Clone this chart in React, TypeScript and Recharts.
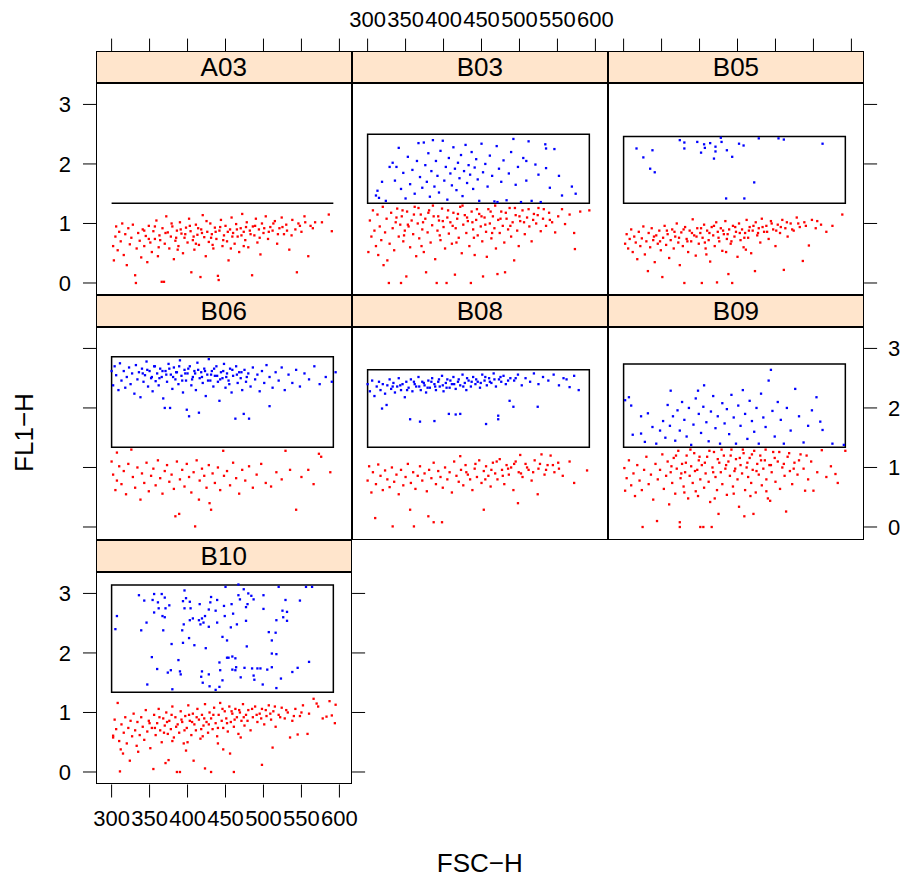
import { ScatterChart, Scatter, XAxis, YAxis, ReferenceArea, ReferenceLine } from "recharts";

type Pt = [number, number];

const X_TICKS = [300, 350, 400, 450, 500, 550, 600];
const Y_TICKS = [0, 1, 2, 3];
const X_DOMAIN: [number, number] = [279.45, 616.7];
const Y_DOMAIN: [number, number] = [-0.21, 3.36];
const GATE_X: [number, number] = [300, 592];
const GATE_LOW = 1.34;

const A03_RED: Pt[] = [
  [302,0.62],[303,0.38],[305,0.78],[306,0.95],[308,0.55],[310,0.86],[312,0.70],[314,1.00],[316,0.47],[318,0.82],
  [320,0.30],[322,0.92],[324,0.65],[326,0.76],[328,0.98],[331,0.13],[332,0.00],[333,0.58],[335,0.84],[337,0.71],
  [339,0.43],[341,0.90],[343,0.62],[345,0.79],[347,0.35],[349,0.96],[351,0.68],[353,0.52],[355,0.87],[357,0.74],
  [359,1.05],[361,0.45],[363,0.80],[366,0.02],[367,0.92],[369,0.02],[370,0.66],[372,1.12],[374,0.85],[376,0.58],
  [378,0.78],[380,0.95],[382,0.40],[384,0.71],[386,0.88],[388,0.62],[390,1.02],[392,0.83],[394,0.50],[396,0.76],
  [398,0.93],[400,0.68],[402,1.08],[404,0.87],[405,0.18],[407,0.72],[409,0.56],[411,0.98],[413,0.81],[415,0.64],
  [417,0.10],[418,0.90],[420,1.14],[422,0.77],[424,0.45],[426,0.86],[428,0.69],[430,1.00],[432,0.82],[434,0.58],
  [436,0.93],[438,0.74],[440,0.12],[441,0.05],[442,0.88],[444,1.06],[446,0.62],[448,0.80],[450,0.96],[452,0.70],
  [454,0.38],[456,0.90],[458,1.10],[460,0.84],[462,0.66],[464,0.99],[466,0.78],[468,0.52],[470,0.92],[472,1.16],
  [474,0.86],[476,0.72],[478,1.02],[480,0.60],[482,0.88],[485,0.13],[486,0.95],[488,0.80],[490,1.08],[492,0.68],
  [494,0.90],[496,0.48],[498,1.00],[500,0.84],[503,1.12],[506,0.74],[509,0.94],[512,0.88],[515,1.04],[518,0.66],
  [521,0.92],[524,1.10],[527,0.82],[530,0.98],[534,0.56],[538,1.06],[542,0.90],[544,0.18],[546,1.00],[550,0.86],
  [554,1.12],[559,0.45],[562,0.96],[568,1.02],[577,1.02],[586,1.15],[590,0.87],
  [343,0.88],[357,0.95],[364,0.72],[371,0.84],[379,1.00],[385,0.76],[391,0.90],[397,0.82],[403,0.96],[408,0.78],
  [414,0.92],[419,0.84],[425,1.04],[431,0.76],[437,0.86],[443,0.94],[447,0.72],[453,0.86],[459,0.78],[465,0.90],
  [471,0.80],[477,0.94],[483,0.82],[489,0.96],[495,0.76],[501,0.92],[507,0.86],[513,1.00],[519,0.82],[525,0.94],
  [531,0.88],[537,0.80],[548,0.96],[555,1.02],[565,0.92],[349,0.74],[362,0.60],[387,0.56],[411,0.66],[433,0.64],
  [457,0.58],[474,0.62],
];

const B03_RED: Pt[] = [
  [301,0.52],[303,1.05],[305,0.78],[307,1.22],[309,0.88],[311,0.62],[313,1.15],[314,0.47],[316,0.95],[318,0.72],
  [320,1.28],[321,0.30],[323,0.85],[325,1.08],[326,0.38],[328,0.00],[329,0.66],[331,1.18],[333,0.92],[335,0.55],
  [337,1.02],[339,1.25],[341,0.78],[343,0.98],[344,0.00],[345,1.12],[347,0.70],[349,0.88],[351,0.11],[352,1.20],
  [354,0.95],[356,0.60],[358,1.05],[360,0.82],[362,1.28],[364,0.45],[366,1.00],[368,0.75],[370,1.15],[372,0.90],
  [374,0.52],[376,1.08],[377,0.18],[379,0.85],[381,1.22],[383,0.68],[385,0.97],[387,1.12],[389,0.40],[391,0.00],
  [392,0.88],[394,1.05],[396,0.72],[398,1.25],[400,0.94],[402,0.58],[404,0.00],[405,1.10],[407,0.83],[409,1.02],
  [411,0.66],[413,1.18],[415,0.14],[416,0.92],[418,1.08],[420,0.76],[422,1.28],[424,0.50],[426,0.98],[428,1.14],
  [430,0.84],[432,1.04],[434,0.62],[436,0.00],[437,1.20],[439,0.90],[441,0.47],[443,1.06],[445,0.80],[447,1.16],
  [449,0.95],[451,0.70],[452,0.11],[454,1.10],[456,0.86],[457,0.44],[459,1.24],[461,1.00],[463,0.75],[465,1.12],
  [467,0.92],[469,0.58],[471,0.15],[472,1.06],[474,0.84],[476,1.20],[478,0.96],[480,0.68],[481,0.18],[483,1.08],
  [485,0.90],[487,1.26],[489,0.78],[491,1.02],[493,0.38],[495,1.14],[497,0.88],[499,0.62],[501,1.04],[504,1.22],
  [507,0.82],[510,1.10],[513,0.95],[516,0.70],[519,1.16],[522,1.00],[525,1.26],[528,0.87],[531,1.08],[535,0.96],
  [539,1.18],[543,1.02],[547,0.85],[551,1.12],[556,1.24],[560,0.99],[566,1.15],[572,0.84],[573,0.57],[580,1.20],
  [592,1.22],
  [338,1.10],[346,1.22],[353,0.98],[361,1.15],[367,1.26],[373,1.02],[380,1.18],[386,1.30],[393,1.12],[399,1.04],
  [406,1.22],[412,0.96],[419,1.16],[425,1.30],[431,1.10],[438,1.02],[444,1.24],[450,1.12],[455,0.98],[462,1.20],
  [468,1.30],[475,1.08],[482,1.18],[488,0.96],[494,1.26],[500,1.12],[506,1.02],[512,1.24],[518,1.06],[524,1.14],
  [532,1.24],[540,1.06],[348,0.80],[371,0.62],[395,0.80],[417,0.68],[440,0.76],[464,0.84],
];

const B03_BLUE: Pt[] = [
  [311,1.47],[313,1.55],[315,1.43],[319,1.70],[324,1.38],[329,1.95],[333,2.02],[336,1.72],[338,1.95],[341,2.27],
  [344,1.58],[347,1.85],[350,1.42],[353,2.12],[356,1.66],[359,1.90],[362,1.50],[365,2.05],[367,2.35],[369,1.78],
  [372,1.60],[374,2.36],[376,1.98],[378,1.70],[380,2.18],[382,1.45],[384,1.88],[386,2.40],[388,1.62],[390,2.05],
  [392,1.80],[394,1.52],[396,2.22],[399,2.39],[401,1.72],[403,1.95],[405,1.40],[407,2.10],[409,1.84],[411,1.64],
  [413,2.28],[415,1.92],[417,1.56],[419,2.02],[421,1.76],[423,2.15],[425,1.46],[427,1.88],[429,2.32],[431,1.68],
  [433,1.98],[435,1.82],[437,2.20],[439,1.58],[441,1.94],[443,2.08],[445,1.74],[447,1.38],[450,2.34],[452,1.86],
  [455,2.00],[458,1.62],[461,2.14],[464,1.80],[467,1.37],[470,2.30],[471,1.36],[473,1.92],[476,1.70],[479,2.06],
  [483,1.39],[486,1.84],[489,2.20],[492,2.42],[495,1.65],[498,1.95],[502,1.36],[505,2.10],[509,1.72],[509,2.05],
  [512,2.38],[516,1.38],[521,1.99],[525,1.82],[528,1.36],[534,2.33],[535,1.93],[535,2.26],[540,1.60],[546,2.25],
  [552,1.80],[556,1.47],[569,1.62],[574,1.50],
];

const B05_RED: Pt[] = [
  [302,0.66],[304,0.82],[306,0.58],[308,0.74],[310,0.90],[312,0.52],[314,0.78],[316,0.68],[318,0.40],[320,0.86],
  [322,0.62],[324,0.75],[326,0.95],[328,0.48],[330,0.70],[332,0.20],[333,0.84],[335,0.60],[337,0.92],[339,0.72],
  [341,0.35],[343,0.80],[345,0.66],[347,0.88],[349,0.55],[351,0.10],[352,0.76],[354,0.96],[356,0.64],[358,0.82],
  [360,0.42],[362,0.72],[364,0.90],[366,0.58],[368,0.78],[370,1.00],[372,0.68],[374,0.30],[376,0.85],[378,0.62],
  [380,0.00],[381,0.94],[383,0.74],[385,0.52],[387,0.88],[389,0.70],[391,1.07],[393,0.80],[395,0.46],[397,0.92],
  [399,0.66],[401,0.84],[403,0.00],[404,0.76],[406,0.98],[408,0.58],[410,0.88],[412,0.72],[414,0.36],[416,0.94],
  [418,0.80],[420,0.62],[422,1.02],[423,0.01],[424,0.86],[426,0.70],[428,0.92],[430,0.54],[432,0.82],[434,1.04],
  [436,0.74],[438,0.15],[439,0.90],[441,0.66],[443,0.00],[444,0.96],[446,0.78],[448,0.86],[450,0.44],[452,1.00],
  [454,0.72],[456,0.90],[458,0.60],[460,0.84],[462,1.06],[464,0.76],[466,0.94],[468,0.50],[470,0.88],[473,0.20],
  [474,1.02],[476,0.80],[478,0.92],[480,0.68],[482,1.08],[485,0.86],[488,0.96],[491,0.74],[494,1.04],[497,0.90],
  [500,0.62],[503,0.98],[506,0.84],[509,1.06],[511,0.22],[513,0.92],[516,0.78],[520,1.00],[524,0.88],[528,1.10],
  [532,0.94],[536,0.37],[538,1.02],[544,0.63],[548,1.06],[553,0.92],[560,0.98],[567,0.86],[575,0.96],[588,1.15],
  [367,0.86],[373,0.76],[379,0.90],[384,0.70],[390,0.84],[396,0.78],[402,0.92],[407,0.68],[413,0.84],[419,0.96],
  [425,0.76],[431,0.88],[437,0.82],[442,0.70],[447,0.94],[453,0.84],[459,0.76],[465,0.88],[471,0.96],[477,0.84],
  [483,0.94],[489,0.86],[495,1.00],[501,0.88],[507,0.94],[515,1.02],[522,0.90],[530,1.00],[540,0.96],[555,1.04],
  [340,0.78],[348,0.70],[357,0.88],[409,0.48],[435,0.52],[461,0.56],
];

const B05_BLUE: Pt[] = [
  [317,2.26],[326,2.11],[335,1.92],[338,2.23],[341,1.86],[374,2.40],[380,2.36],[380,2.26],[397,2.37],[402,2.19],
  [406,2.33],[407,2.27],[414,2.35],[419,2.09],[421,2.29],[421,2.21],[428,2.44],[429,2.37],[435,1.42],[436,2.23],
  [443,2.12],[452,2.34],[458,2.31],[459,1.42],[472,1.69],[478,2.43],[504,2.43],[511,2.41],[562,2.34],
];

const B06_RED: Pt[] = [
  [300,1.10],[302,0.88],[305,0.62],[307,1.25],[307,0.78],[310,1.02],[313,0.72],[316,0.94],[319,0.55],[322,1.06],
  [326,1.30],[328,0.84],[331,0.66],[334,1.00],[338,0.46],[340,0.90],[343,0.74],[346,1.08],[349,0.60],[352,0.86],
  [355,0.98],[358,0.70],[361,1.12],[364,0.82],[367,0.56],[370,0.94],[373,1.04],[376,0.76],[379,0.88],[382,0.64],
  [384,0.18],[386,1.10],[389,0.22],[390,0.80],[393,0.96],[396,0.68],[399,1.06],[402,0.84],[405,0.58],[408,0.92],
  [410,0.01],[412,1.12],[415,0.46],[416,0.78],[419,0.98],[422,0.86],[425,0.66],[428,1.04],[429,0.40],[431,0.29],
  [433,0.90],[436,0.74],[440,1.00],[443,0.62],[447,1.28],[448,0.86],[452,0.94],[456,0.70],[460,1.08],[464,0.82],
  [468,0.56],[472,0.96],[476,0.78],[481,1.02],[486,0.66],[491,0.88],[497,1.06],[503,0.74],[510,0.68],[517,0.92],
  [524,0.80],[529,1.28],[535,0.96],[543,0.29],[550,0.84],[559,0.96],[566,0.72],[573,1.23],[576,1.18],[588,0.92],
];

const B06_BLUE: Pt[] = [
  [300,2.62],[302,2.38],[304,2.70],[306,2.55],[309,2.30],[311,2.75],[313,2.46],[316,2.62],[318,2.34],[320,2.52],
  [323,2.68],[325,2.40],[327,2.58],[330,2.24],[332,2.72],[334,2.48],[336,2.60],[338,2.18],[340,2.66],[342,2.44],
  [344,2.55],[346,2.78],[348,2.36],[350,2.62],[352,2.50],[354,2.28],[356,2.70],[358,2.45],[360,2.58],[362,2.38],
  [364,2.66],[366,2.52],[368,2.16],[370,2.00],[371,2.62],[373,2.44],[375,2.74],[377,2.00],[378,2.56],[380,2.32],
  [382,2.68],[384,2.48],[386,2.60],[388,2.40],[390,2.80],[392,2.54],[394,2.26],[396,2.64],[398,2.46],[399,1.97],
  [400,2.58],[402,1.86],[403,2.70],[405,2.38],[407,2.52],[409,2.62],[411,2.30],[413,2.76],[415,1.92],[416,2.50],
  [418,2.60],[420,2.42],[422,2.66],[424,2.20],[426,2.56],[428,2.82],[430,2.46],[432,2.62],[434,2.36],[436,2.54],
  [438,2.70],[440,2.44],[442,2.12],[444,2.60],[446,2.50],[448,2.74],[450,2.34],[452,2.58],[454,2.46],[456,2.66],
  [458,2.26],[460,2.54],[463,1.82],[464,2.70],[466,2.42],[468,2.60],[470,2.50],[472,2.30],[474,1.90],[475,2.64],
  [477,2.44],[480,2.58],[481,1.82],[483,2.36],[486,2.68],[489,2.48],[492,2.56],[495,2.28],[498,2.62],[501,2.42],
  [504,2.72],[508,2.03],[508,2.52],[512,2.34],[516,2.60],[520,2.46],[524,2.68],[528,2.30],[533,2.56],[538,2.42],
  [543,2.64],[548,2.36],[554,2.58],[560,2.48],[567,2.70],[574,2.40],[582,2.52],[590,2.44],[595,2.60],
  [341,2.58],[347,2.64],[353,2.52],[357,2.70],[363,2.50],[367,2.62],[372,2.56],[376,2.66],[381,2.52],[385,2.60],
  [389,2.70],[393,2.46],[397,2.58],[401,2.66],[406,2.48],[410,2.58],[414,2.64],[419,2.52],[423,2.62],[427,2.46],
  [431,2.56],[435,2.66],[439,2.54],[443,2.48],[447,2.62],[451,2.52],[455,2.40],[459,2.64],[465,2.56],[471,2.60],
  [478,2.52],
];

const B08_RED: Pt[] = [
  [300,0.78],[302,1.02],[305,0.58],[307,0.92],[310,0.15],[311,0.72],[314,1.05],[317,0.86],[320,0.62],[323,0.95],
  [326,0.80],[329,0.67],[332,1.00],[333,0.01],[335,0.76],[338,0.88],[341,0.55],[344,0.96],[347,0.70],[350,0.84],
  [353,1.06],[356,0.29],[357,0.74],[360,0.92],[361,0.01],[363,0.64],[366,0.86],[369,1.02],[372,0.78],[375,0.90],
  [378,0.60],[380,0.18],[381,0.96],[384,0.82],[387,0.08],[387,1.08],[390,0.72],[393,0.94],[396,0.84],[398,0.08],
  [399,0.66],[402,1.00],[405,0.80],[408,0.92],[411,0.58],[414,1.10],[417,0.86],[420,0.76],[422,1.19],[423,0.96],
  [426,0.70],[429,1.04],[432,0.88],[435,0.80],[438,0.62],[441,0.98],[444,0.84],[447,1.12],[450,0.74],[453,0.29],
  [453,0.94],[456,1.02],[459,0.86],[462,0.68],[465,1.08],[468,0.90],[471,0.80],[474,1.14],[477,0.96],[480,0.72],
  [483,1.04],[486,0.88],[489,1.00],[492,0.62],[495,1.10],[498,0.40],[499,0.92],[501,1.21],[504,0.84],[508,1.06],
  [512,0.96],[516,0.78],[520,1.12],[524,0.55],[525,0.98],[529,1.22],[533,0.88],[537,1.04],[541,1.20],[546,0.92],
  [551,1.08],[557,0.86],[566,1.10],[572,0.74],[589,0.95],
  [430,0.92],[442,1.06],[455,0.80],[463,0.96],[470,1.10],[478,0.86],[485,0.98],[493,1.06],[502,0.90],[510,1.00],
  [518,0.92],[527,1.06],[535,0.96],[544,1.04],[552,0.98],
];

const B08_BLUE: Pt[] = [
  [300,2.40],[303,2.28],[306,2.46],[309,2.20],[312,2.36],[315,2.44],[317,2.30],[319,1.99],[320,2.40],[323,2.24],
  [325,2.05],[326,2.38],[329,2.48],[331,2.32],[334,2.42],[336,2.26],[339,2.36],[341,2.50],[344,2.30],[346,2.40],
  [349,2.18],[351,2.44],[354,2.34],[356,1.81],[357,2.48],[359,2.28],[362,2.40],[364,2.36],[367,2.52],[369,1.77],
  [370,2.30],[372,2.44],[375,2.38],[377,2.26],[380,2.46],[382,2.34],[385,2.50],[388,1.78],[388,2.40],[390,2.30],
  [393,2.44],[395,2.36],[398,2.54],[400,2.28],[403,2.42],[405,2.48],[407,1.90],[408,2.34],[411,2.40],[413,2.52],
  [416,1.89],[416,2.32],[419,2.44],[422,1.90],[422,2.38],[425,2.56],[428,2.42],[430,2.30],[433,2.46],[436,2.36],
  [439,2.52],[442,2.40],[445,2.44],[448,2.34],[451,2.56],[454,2.46],[456,1.73],[457,2.38],[460,2.50],[463,2.42],
  [466,2.58],[469,2.36],[472,1.81],[472,1.87],[473,2.48],[476,2.44],[479,2.54],[482,2.40],[487,2.12],[488,2.50],
  [492,2.02],[493,2.46],[498,2.56],[503,2.38],[508,2.50],[514,2.44],[519,2.58],[524,2.02],[525,2.40],[531,2.52],
  [538,2.46],[545,2.56],[552,2.38],[558,2.50],[562,2.48],[566,2.35],[572,2.54],[578,2.30],
  [333,2.36],[343,2.38],[352,2.30],[361,2.44],[368,2.36],[374,2.42],[379,2.34],[384,2.44],[389,2.36],[394,2.48],
  [399,2.38],[404,2.34],[409,2.46],[414,2.40],[420,2.48],[426,2.36],[431,2.50],[437,2.44],[443,2.48],[449,2.42],
  [455,2.52],[461,2.44],[467,2.48],[475,2.52],[485,2.46],[495,2.50],
];

const B09_RED: Pt[] = [
  [301,0.99],[302,0.61],[304,0.82],[307,1.12],[310,0.70],[313,0.90],[315,0.52],[318,1.04],[321,0.78],[324,0.62],
  [325,0.00],[327,0.96],[330,1.18],[333,0.72],[336,0.88],[339,0.46],[342,1.06],[344,0.10],[345,0.80],[348,0.96],
  [351,1.22],[353,0.64],[356,0.86],[358,1.10],[360,0.38],[362,0.92],[364,0.74],[366,1.16],[368,0.56],[370,0.98],
  [372,1.28],[374,0.00],[374,0.08],[375,0.82],[377,1.06],[379,0.68],[381,0.92],[383,1.20],[385,0.48],[387,0.86],
  [389,1.02],[391,0.74],[393,1.24],[395,0.60],[397,0.96],[399,1.12],[401,0.00],[401,0.80],[403,1.04],[405,0.00],
  [406,0.66],[408,0.90],[410,1.18],[412,0.76],[414,0.42],[416,0.00],[417,1.00],[419,1.26],[421,0.84],[423,0.62],
  [425,0.22],[426,1.08],[428,0.92],[430,0.72],[432,1.20],[434,0.98],[436,0.54],[438,1.10],[440,0.86],[442,1.30],
  [444,0.68],[446,0.94],[448,1.14],[450,0.80],[452,0.34],[454,1.04],[456,0.90],[458,1.24],[459,0.18],[460,0.62],
  [462,1.00],[464,0.84],[466,1.16],[468,0.74],[470,0.96],[471,0.22],[472,1.28],[474,0.58],[476,1.06],[478,0.88],
  [480,1.20],[482,0.70],[484,0.98],[486,1.12],[488,0.80],[490,0.48],[492,1.04],[493,0.44],[495,0.92],[497,1.26],
  [500,0.76],[503,1.10],[506,0.64],[509,1.00],[512,0.86],[514,0.26],[516,1.18],[519,0.94],[522,0.72],[525,1.08],
  [529,0.88],[533,1.22],[537,0.98],[539,0.61],[543,0.80],[547,1.10],[550,0.61],[555,0.92],[561,1.29],[567,0.84],
  [573,1.02],[579,0.89],[582,0.74],[592,1.28],
  [363,1.02],[369,1.20],[376,0.90],[382,1.08],[388,1.30],[394,0.94],[400,1.18],[407,1.08],[413,1.28],[418,0.92],
  [424,1.14],[429,1.30],[435,1.04],[441,1.20],[447,0.98],[453,1.16],[457,1.30],[463,1.08],[469,1.22],[475,0.94],
  [481,1.12],[487,1.30],[494,1.04],[499,1.16],[505,1.26],[511,1.06],[518,1.24],[524,0.98],[531,1.12],[541,1.20],
  [380,0.58],[398,0.52],[420,0.48],[445,0.56],[467,0.52],[488,0.60],
];

const B09_BLUE: Pt[] = [
  [302,2.13],[307,2.18],[310,2.04],[312,1.55],[323,1.57],[323,1.86],[328,1.43],[332,1.91],[338,1.68],[343,1.40],
  [348,1.62],[352,1.78],[355,1.50],[358,2.05],[361,1.70],[362,2.29],[365,1.86],[368,1.45],[371,1.96],[374,1.62],
  [377,2.10],[380,1.80],[383,1.52],[386,2.00],[389,1.38],[392,1.72],[395,2.16],[398,2.29],[399,1.90],[402,1.58],
  [405,2.02],[406,2.38],[409,1.76],[412,1.44],[415,1.94],[418,2.20],[421,1.66],[424,1.86],[427,1.40],[430,2.08],
  [433,1.74],[436,1.98],[439,1.56],[442,2.22],[445,1.84],[448,1.40],[451,2.04],[454,1.70],[457,2.30],[460,1.90],
  [463,1.48],[466,2.12],[469,1.78],[472,1.60],[475,2.00],[478,1.40],[481,2.24],[484,1.84],[487,1.68],[491,2.46],
  [494,2.64],[496,1.95],[499,1.52],[503,2.10],[507,1.80],[511,1.40],[515,2.00],[520,1.62],[526,2.32],[531,1.86],
  [537,1.42],[543,1.70],[548,1.96],[554,2.18],[559,1.77],[562,1.63],[575,1.40],[590,1.38],
];

const B10_RED: Pt[] = [
  [302,0.58],[302,0.61],[304,0.88],[306,0.72],[308,1.16],[310,0.52],[311,0.01],[312,0.38],[313,0.80],[315,0.31],
  [316,0.66],[318,0.92],[320,0.48],[322,0.74],[324,0.19],[325,0.86],[327,0.60],[329,0.98],[331,0.70],[333,0.44],
  [334,0.84],[335,0.34],[337,0.62],[339,0.92],[341,0.76],[343,0.54],[345,1.04],[347,0.68],[349,0.86],[351,0.40],
  [353,0.74],[355,0.05],[356,0.96],[358,0.62],[360,0.82],[362,1.06],[364,0.70],[366,0.50],[368,0.90],[370,0.78],
  [371,0.15],[372,1.00],[374,0.64],[375,0.20],[376,0.86],[378,0.72],[380,1.10],[382,0.58],[384,0.92],[386,0.00],
  [387,0.80],[389,0.66],[390,0.00],[391,1.02],[393,0.84],[395,0.48],[397,0.94],[398,0.36],[399,0.74],[401,1.12],
  [403,0.86],[405,0.62],[407,0.98],[408,0.19],[409,0.80],[411,0.70],[413,1.06],[415,0.88],[417,0.56],[419,0.96],
  [421,0.78],[423,0.06],[423,1.14],[425,0.84],[427,0.66],[429,1.00],[431,0.00],[431,0.90],[433,0.72],[435,1.08],
  [437,0.82],[439,0.60],[441,0.96],[443,1.16],[445,0.86],[447,0.38],[447,0.74],[449,1.02],[451,0.90],[453,0.68],
  [455,1.10],[456,0.31],[457,0.84],[459,0.98],[461,0.00],[461,0.76],[463,1.06],[465,0.92],[467,0.64],[469,1.00],
  [471,0.86],[473,1.14],[475,0.78],[477,0.96],[480,1.04],[483,0.70],[486,0.92],[489,1.10],[492,0.84],[495,0.98],
  [498,0.12],[498,1.06],[501,0.80],[504,0.94],[507,1.12],[510,0.88],[512,0.41],[513,1.02],[516,0.76],[520,0.96],
  [524,1.08],[528,0.90],[532,1.00],[535,0.58],[538,0.86],[542,1.06],[545,0.63],[548,0.94],[552,1.12],[558,0.64],
  [560,0.98],[566,1.23],[570,1.15],[572,1.10],[578,0.90],[583,0.93],[587,1.19],[590,0.95],[594,0.82],[595,1.13],
  [350,0.82],[357,0.74],[363,0.92],[369,0.66],[373,0.84],[379,0.96],[385,0.76],[392,0.88],[396,0.70],[402,0.96],
  [406,0.84],[412,0.92],[418,0.72],[422,0.90],[428,0.80],[434,0.96],[440,0.74],[446,1.06],[452,0.82],[458,1.02],
  [462,0.88],[468,1.04],[474,0.92],[479,0.86],[485,1.06],[491,0.96],[497,0.90],[503,1.04],[509,0.98],[515,1.10],
  [522,0.92],[530,1.04],[540,0.94],[550,1.00],[380,0.52],[400,0.50],[420,0.60],[440,0.48],[470,0.58],
];

const B10_BLUE: Pt[] = [
  [307,2.62],[305,2.40],[336,2.97],[343,2.88],[346,2.51],[339,2.38],[347,1.47],[353,1.93],[354,2.89],[356,2.99],
  [361,2.85],[362,2.75],[356,2.68],[366,2.99],[370,2.93],[367,2.62],[370,2.60],[371,2.75],[376,2.80],[368,2.38],
  [360,1.73],[374,1.67],[379,2.15],[380,1.39],[378,1.71],[388,1.88],[390,1.69],[391,1.64],[393,2.38],[395,2.48],
  [394,2.17],[394,2.87],[396,3.05],[398,2.92],[396,2.75],[403,2.86],[404,2.75],[403,2.55],[402,2.25],[409,2.13],
  [407,2.58],[416,2.82],[415,2.55],[417,2.48],[419,2.58],[423,2.62],[424,2.08],[421,2.51],[418,1.60],[419,1.69],
  [420,1.50],[428,1.64],[429,1.44],[437,1.38],[442,1.43],[446,1.54],[443,1.71],[442,1.84],[428,2.44],[428,2.73],
  [430,2.85],[431,2.94],[437,2.71],[439,2.89],[439,2.51],[446,2.27],[448,2.79],[449,2.62],[450,3.11],[452,2.21],
  [452,1.92],[454,1.92],[459,1.94],[463,1.91],[457,2.43],[458,2.82],[459,1.72],[460,2.66],[465,2.48],[467,2.97],
  [469,2.90],[467,3.15],[474,3.07],[463,1.71],[464,1.76],[470,1.59],[475,1.75],[477,2.54],[477,2.77],[479,2.82],
  [478,2.11],[480,3.00],[484,2.96],[487,2.90],[485,1.74],[487,1.62],[488,1.55],[492,1.74],[496,1.74],[499,1.47],
  [500,2.74],[500,2.97],[507,2.35],[511,2.21],[511,1.99],[511,1.76],[505,1.72],[516,2.34],[517,1.98],[517,2.55],
  [517,1.41],[520,3.11],[523,1.57],[525,2.71],[526,2.60],[529,2.89],[531,2.69],[531,2.54],[538,1.68],[545,1.75],
  [548,2.88],[556,3.11],[560,1.85],[564,3.11],
];

// panel layout (page pixels)
const COL_LEFT = [95.7, 351.8, 607.9];
const ROW_TOP = [50.7, 295.2, 539.7];
const PANEL_W = 256.1;
const STRIP_H = 32;
const PANEL_H = 212.5;
const PAD_T = 84;
const PAD_B = 58;
const PAD_X = 52;

const FONT = '"Liberation Sans", Arial, Helvetica, sans-serif';
const TICK_FONT = 22;

interface PanelDef {
  name: string;
  row: number;
  col: number;
  red: Pt[];
  blue: Pt[];
  gateTop: number | null;
  top?: boolean;
  topLabels?: boolean;
  left?: boolean;
  leftLabels?: boolean;
  right?: boolean;
  rightLabels?: boolean;
  bottom?: boolean;
}

const PANELS: PanelDef[] = [
  { name: "A03", row: 0, col: 0, red: A03_RED, blue: [], gateTop: null, top: true, left: true, leftLabels: true },
  { name: "B03", row: 0, col: 1, red: B03_RED, blue: B03_BLUE, gateTop: 2.5, top: true, topLabels: true },
  { name: "B05", row: 0, col: 2, red: B05_RED, blue: B05_BLUE, gateTop: 2.46, top: true, right: true },
  { name: "B06", row: 1, col: 0, red: B06_RED, blue: B06_BLUE, gateTop: 2.86, left: true },
  { name: "B08", row: 1, col: 1, red: B08_RED, blue: B08_BLUE, gateTop: 2.64 },
  { name: "B09", row: 1, col: 2, red: B09_RED, blue: B09_BLUE, gateTop: 2.74, right: true, rightLabels: true },
  { name: "B10", row: 2, col: 0, red: B10_RED, blue: B10_BLUE, gateTop: 3.14, left: true, leftLabels: true, right: true, bottom: true },
];

const toPts = (a: Pt[]) => a.map(([x, y]) => ({ x, y }));

const dot = (color: string) => (props: any) => (
  <rect x={props.cx - 1.15} y={props.cy - 1.15} width={2.3} height={2.3} fill={color} />
);

const TopTick = (props: any) => {
  const { x, payload, showLabel } = props;
  const y0 = PAD_T - STRIP_H;
  return (
    <g>
      <line x1={x} x2={x} y1={y0 - 12.4} y2={y0} stroke="#000" strokeWidth={1} />
      {showLabel && (
        <text x={x} y={y0 - 24} textAnchor="middle" fontSize={TICK_FONT} fontFamily={FONT} fill="#000">
          {payload.value}
        </text>
      )}
    </g>
  );
};

const tickStyle = { fontSize: TICK_FONT, fill: "#000", fontFamily: FONT };
const lineStyle = { stroke: "#000", strokeWidth: 1 };

function Panel({ p }: { p: PanelDef }) {
  const panelTop = ROW_TOP[p.row] + STRIP_H;
  const left = COL_LEFT[p.col];
  return (
    <>
      <div style={{ position: "absolute", left: left - PAD_X, top: panelTop - PAD_T }}>
        <ScatterChart
          width={PANEL_W + 2 * PAD_X}
          height={PANEL_H + PAD_T + PAD_B}
          margin={{ top: PAD_T - 1, bottom: PAD_B - 1, left: PAD_X - 1, right: PAD_X - 1 }}
        >
          <XAxis
            xAxisId="t"
            orientation="top"
            type="number"
            dataKey="x"
            domain={X_DOMAIN}
            allowDataOverflow
            ticks={X_TICKS}
            interval={0}
            height={1}
            axisLine={false}
            tickLine={false}
            tick={p.top ? (props: any) => <TopTick {...props} showLabel={!!p.topLabels} /> : false}
          />
          <XAxis
            xAxisId="b"
            orientation="bottom"
            type="number"
            dataKey="x"
            domain={X_DOMAIN}
            allowDataOverflow
            ticks={X_TICKS}
            interval={0}
            height={1}
            axisLine={false}
            tickSize={13}
            tickMargin={13}
            tickLine={p.bottom ? lineStyle : false}
            tick={p.bottom ? tickStyle : false}
          />
          <YAxis
            yAxisId="l"
            orientation="left"
            type="number"
            dataKey="y"
            domain={Y_DOMAIN}
            allowDataOverflow
            ticks={Y_TICKS}
            interval={0}
            width={1}
            axisLine={false}
            tickSize={13}
            tickMargin={12}
            tickLine={p.left ? lineStyle : false}
            tick={p.left ? (p.leftLabels ? tickStyle : () => <g />) : false}
          />
          <YAxis
            yAxisId="r"
            orientation="right"
            type="number"
            dataKey="y"
            domain={Y_DOMAIN}
            allowDataOverflow
            ticks={Y_TICKS}
            interval={0}
            width={1}
            axisLine={false}
            tickSize={13}
            tickMargin={11}
            tickLine={p.right ? lineStyle : false}
            tick={p.right ? (p.rightLabels ? tickStyle : () => <g />) : false}
          />
          {p.gateTop === null ? (
            <ReferenceLine
              xAxisId="t"
              yAxisId="l"
              segment={[
                { x: GATE_X[0], y: GATE_LOW },
                { x: GATE_X[1], y: GATE_LOW },
              ]}
              stroke="#000"
              strokeWidth={1.5}
            />
          ) : (
            <ReferenceArea
              xAxisId="t"
              yAxisId="l"
              x1={GATE_X[0]}
              x2={GATE_X[1]}
              y1={GATE_LOW}
              y2={p.gateTop}
              stroke="#000"
              strokeWidth={1.5}
              fill="none"
              fillOpacity={0}
            />
          )}
          <Scatter
            xAxisId="t"
            yAxisId="l"
            data={toPts(p.red)}
            fill="#FF0000"
            shape={dot("#FF0000")}
            isAnimationActive={false}
          />
          <Scatter
            xAxisId="b"
            yAxisId="r"
            data={toPts(p.blue)}
            fill="#0000FF"
            shape={dot("#0000FF")}
            isAnimationActive={false}
          />
        </ScatterChart>
      </div>
      <div
        style={{
          position: "absolute",
          left,
          top: ROW_TOP[p.row],
          width: PANEL_W,
          height: STRIP_H,
          boxSizing: "border-box",
          border: "1px solid #000",
          background: "#FFE5CC",
          fontSize: 26,
          lineHeight: `${STRIP_H - 2}px`,
          textAlign: "center",
          color: "#000",
        }}
      >
        {p.name}
      </div>
      <div
        style={{
          position: "absolute",
          left,
          top: panelTop,
          width: PANEL_W,
          height: PANEL_H,
          boxSizing: "border-box",
          border: "1px solid #000",
          pointerEvents: "none",
        }}
      />
    </>
  );
}

export default function App() {
  return (
    <div
      style={{
        position: "absolute",
        left: 0,
        top: 0,
        width: 904,
        height: 876,
        background: "#fff",
        fontFamily: FONT,
        overflow: "hidden",
      }}
    >
      {PANELS.map((p) => (
        <Panel key={p.name} p={p} />
      ))}
      <svg width={904} height={876} style={{ position: "absolute", left: 0, top: 0, pointerEvents: "none" }}>
        <text x={479.8} y={871.5} textAnchor="middle" fontSize={26} fontFamily={FONT} fill="#000">
          FSC−H
        </text>
        <text
          transform="translate(32.5,432.5) rotate(-90)"
          textAnchor="middle"
          fontSize={26}
          fontFamily={FONT}
          fill="#000"
        >
          FL1−H
        </text>
      </svg>
    </div>
  );
}
